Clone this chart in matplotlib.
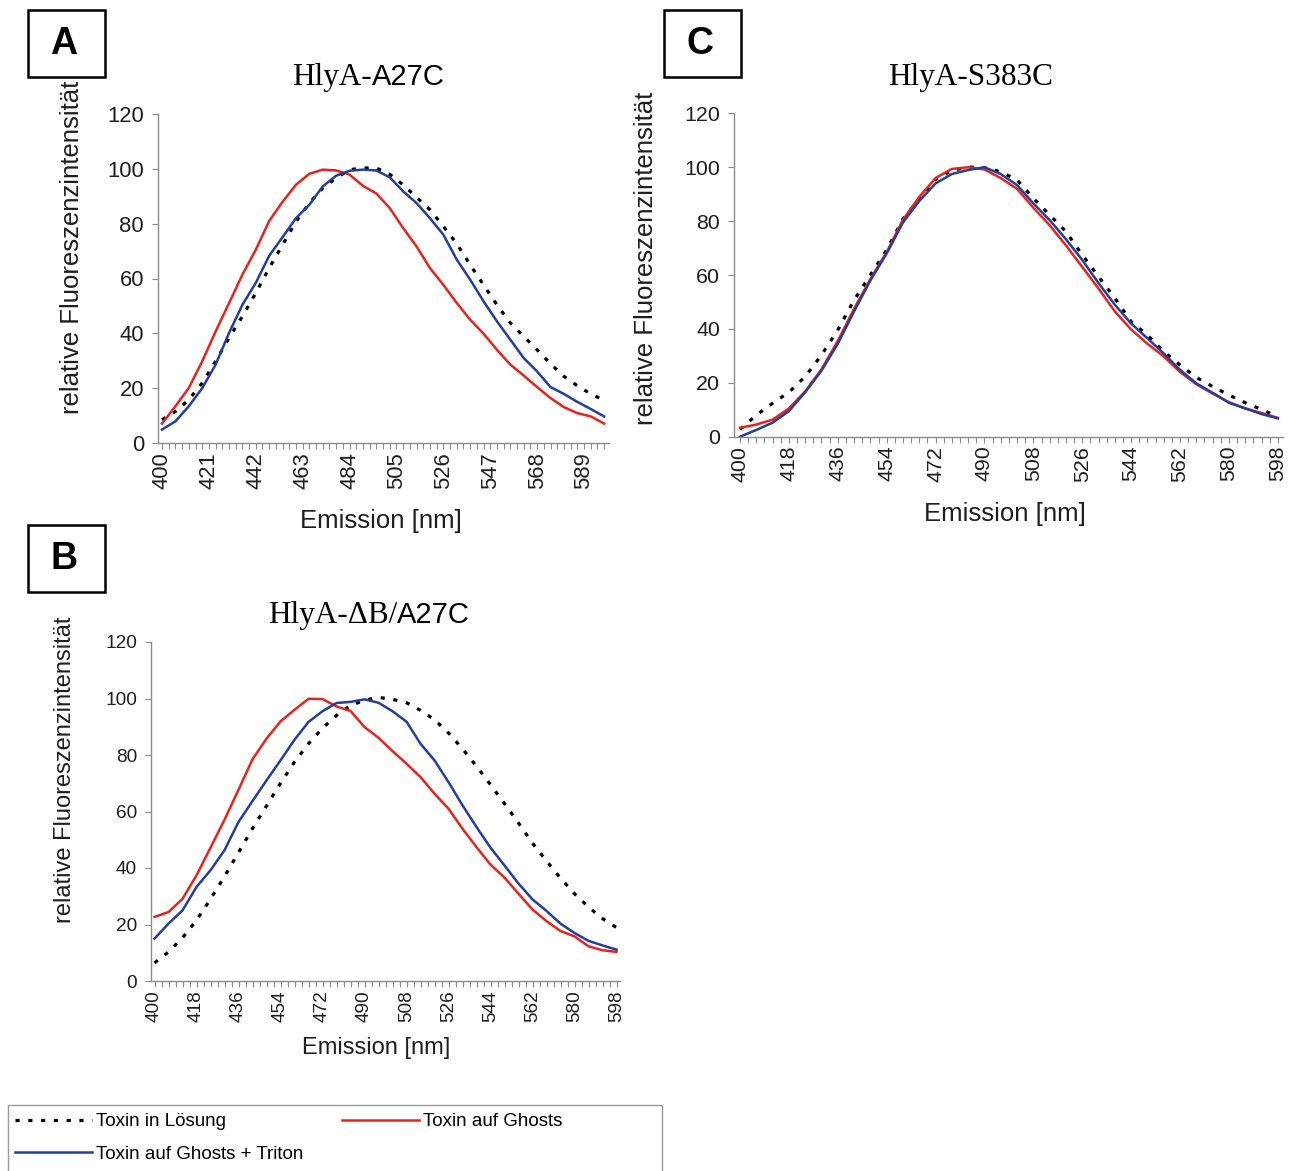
import matplotlib
matplotlib.use("Agg")
import matplotlib.pyplot as plt
from matplotlib.patches import Rectangle

plt.rcParams['font.family'] = ['Liberation Sans', 'DejaVu Sans']

W, H = 1298, 1171

# emission wavelength (nm), read every 6 nm
wavelength = list(range(400, 599, 6))

# panel A: HlyA-A27C
black_a = [8.5, 11.5, 15.8, 21.9, 29.8, 38.3, 46.2, 54.7, 63.8, 72.3,
           80.8, 87.5, 93.0, 96.6, 99.7, 100.3, 100.3, 98.0, 94.2, 89.6,
           85.1, 79.0, 72.7, 65.0, 57.7, 50.4, 43.8, 38.9, 34.0, 28.9,
           24.3, 20.9, 17.9, 15.6]
red_a = [7.1, 13.4, 20.1, 29.8, 40.7, 51.0, 61.4, 70.5, 81.0, 88.0,
         94.2, 98.2, 99.7, 99.4, 97.9, 93.8, 91.0, 85.7, 78.4, 71.7,
         63.8, 57.7, 51.1, 45.0, 39.9, 34.0, 28.6, 24.6, 20.4, 16.4,
         13.1, 10.9, 9.7, 7.1]
blue_a = [4.9, 7.9, 13.4, 20.0, 28.6, 40.1, 50.4, 58.4, 68.3, 75.1,
          82.0, 86.9, 93.6, 97.5, 99.3, 99.7, 99.4, 96.9, 91.8, 87.5,
          82.0, 76.0, 66.9, 59.6, 51.7, 44.4, 37.7, 31.0, 26.1, 20.4,
          17.9, 15.0, 12.4, 9.7]

# panel B: HlyA-dB/A27C
black_b = [6.4, 10.3, 15.3, 21.5, 29.0, 37.0, 45.5, 54.0, 62.0, 70.0,
           77.5, 84.0, 89.5, 94.0, 97.5, 99.4, 100.4, 99.7, 98.5, 95.8,
           92.5, 87.8, 82.2, 76.0, 69.5, 62.8, 55.9, 48.8, 42.5, 36.4,
           30.9, 26.2, 22.1, 18.9]
red_b = [22.7, 24.4, 29.1, 37.4, 47.2, 57.1, 67.7, 78.5, 85.8, 91.9,
         96.0, 99.9, 99.8, 97.2, 95.6, 89.9, 86.1, 81.4, 76.9, 72.2,
         66.3, 61.0, 53.9, 47.4, 41.2, 36.6, 30.9, 25.3, 21.2, 17.7,
         15.8, 12.3, 10.9, 10.3]
blue_b = [15.0, 20.3, 25.0, 33.3, 39.2, 46.3, 56.3, 63.7, 71.0, 78.1,
          85.4, 91.7, 95.5, 98.4, 98.8, 99.7, 98.5, 95.5, 91.8, 84.0,
          78.1, 70.4, 62.2, 54.5, 47.2, 40.9, 34.5, 28.9, 24.8, 20.3,
          17.0, 14.2, 12.6, 11.1]

# panel C: HlyA-S383C
black_c = [2.7, 8.0, 12.4, 16.5, 22.3, 30.3, 39.6, 50.7, 60.0, 69.3,
           80.8, 88.2, 95.5, 98.8, 100.1, 99.9, 98.3, 95.3, 88.5, 82.3,
           76.1, 67.5, 59.4, 51.4, 42.7, 37.7, 31.6, 26.6, 22.0, 18.6,
           15.5, 12.6, 10.1, 7.4]
red_c = [3.3, 4.5, 6.3, 10.5, 16.8, 25.0, 35.5, 47.5, 58.5, 68.5,
         80.5, 89.0, 96.0, 99.4, 100.0, 99.2, 96.0, 92.0, 85.0, 78.5,
         71.0, 63.0, 55.0, 46.5, 39.8, 34.5, 29.8, 24.0, 19.5, 16.0,
         12.8, 10.5, 8.8, 7.0]
blue_c = [0.0, 2.5, 5.2, 9.5, 16.5, 24.5, 34.5, 46.5, 58.0, 68.0,
          79.5, 87.5, 94.0, 97.5, 99.0, 100.0, 97.5, 93.4, 86.6, 80.4,
          73.3, 65.6, 57.0, 49.0, 42.0, 36.5, 30.9, 24.8, 19.8, 16.3,
          12.6, 10.5, 8.4, 6.8]

ticks_a = [400, 421, 442, 463, 484, 505, 526, 547, 568, 589]
ticks_bc = [400, 418, 436, 454, 472, 490, 508, 526, 544, 562, 580, 598]
categories = list(range(400, 599, 3))

labels = ['Toxin in Lösung', 'Toxin auf Ghosts', 'Toxin auf Ghosts + Triton']
RED = '#e8231e'
BLUE = '#233f9a'
AXC = '#8c8c8c'
TXT = '#1e1e1e'


def fx(px):
    return px / W


def fy(py):
    return 1 - py / H


fig = plt.figure(figsize=(W / 100, H / 100), dpi=100)


def panel(box, xlim, black, red, blue, xticks, tsize, lsize, ylab_xy, xlab_xy):
    l, t, r, b = box
    ax = fig.add_axes([fx(l), fy(b), (r - l) / W, (b - t) / H])
    hb, = ax.plot(wavelength, black, color='black', lw=2.3,
                  linestyle=(0, (1.3, 2.7)), label=labels[0])
    hr, = ax.plot(wavelength, red, color=RED, lw=1.8, label=labels[1])
    hbl, = ax.plot(wavelength, blue, color=BLUE, lw=1.8, label=labels[2])
    ax.set_xlim(*xlim)
    ax.set_ylim(0, 120)
    ax.set_yticks([0, 20, 40, 60, 80, 100, 120])
    ax.set_xticks(xticks)
    ax.set_xticks(categories, minor=True)
    ax.tick_params(axis='x', which='both', direction='out', length=4.5,
                   width=0.8, color=AXC, labelrotation=90, pad=2,
                   labelsize=tsize, labelcolor=TXT)
    ax.tick_params(axis='y', direction='out', length=4, width=0.8,
                   color=AXC, pad=6, labelsize=tsize, labelcolor=TXT)
    for s in ['top', 'right']:
        ax.spines[s].set_visible(False)
    for s in ['left', 'bottom']:
        ax.spines[s].set_color(AXC)
        ax.spines[s].set_linewidth(1.0)
    ax.set_ylabel('relative Fluoreszenzintensität', fontsize=lsize,
                  color=TXT, va='center')
    ax.yaxis.set_label_coords(*ylab_xy)
    ax.set_xlabel('Emission [nm]', fontsize=lsize, color=TXT, va='center')
    ax.xaxis.set_label_coords(*xlab_xy)
    return hb, hr, hbl


hb, hr, hbl = panel((158, 114, 609, 443), (398.2, 600.2), black_a, red_a, blue_a,
                    ticks_a, 15.8, 18.5, (-0.191, 0.596), (0.494, -0.237))
panel((151, 642, 620, 981), (398.5, 599.5), black_b, red_b, blue_b,
      ticks_bc, 13.7, 17, (-0.183, 0.622), (0.48, -0.198))
panel((734, 113.4, 1283, 436.7), (397.8, 599.9), black_c, red_c, blue_c,
      ticks_bc, 15.4, 18.5, (-0.160, 0.553), (0.494, -0.239))

# titles (Times part + Arial part as in the original)
serif = ['Liberation Serif', 'DejaVu Serif']
fig.text(fx(372), fy(85), 'HlyA-', family=serif, fontsize=22.5, ha='right', va='baseline')
fig.text(fx(372), fy(85), 'A27C', fontsize=21, ha='left', va='baseline')
fig.text(fx(397), fy(623), 'HlyA-ΔB/', family=serif, fontsize=22.5, ha='right', va='baseline')
fig.text(fx(397), fy(623), 'A27C', fontsize=21, ha='left', va='baseline')
fig.text(fx(971), fy(85), 'HlyA-S383C', family=serif, fontsize=22.5, ha='center', va='baseline')

# panel letters in boxes
for letter, (x0, y0) in [('A', (28, 10)), ('B', (28, 525)), ('C', (664, 10))]:
    fig.patches.append(Rectangle((fx(x0), fy(y0 + 67)), 77 / W, 67 / H,
                                 transform=fig.transFigure, fill=False,
                                 lw=1.8, ec='black'))
    fig.text(fx(x0 + 36), fy(y0 + 34), letter, fontsize=27, fontweight='bold',
             ha='center', va='center')

# legend
fig.patches.append(Rectangle((fx(8), fy(1195)), 654 / W, 90 / H,
                             transform=fig.transFigure, fill=False,
                             lw=1.0, ec='#9a9a9a'))
fig.legend([hb, hbl, hr], [labels[0], labels[2], labels[1]], loc='upper left',
           bbox_to_anchor=(fx(15), fy(1113)), ncol=2, frameon=False,
           handlelength=4.1, handletextpad=0.2, columnspacing=2.1,
           labelspacing=0.82, borderpad=0, borderaxespad=0, fontsize=13.5)

fig.savefig('out.png', dpi=100)
